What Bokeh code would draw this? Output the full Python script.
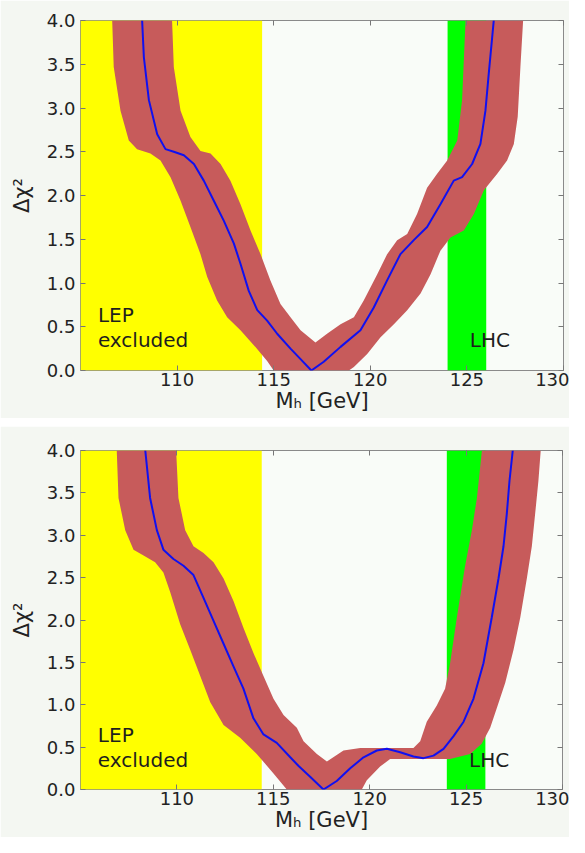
from bokeh.plotting import figure
from bokeh.models import Range1d, FixedTicker, LinearAxis, PrintfTickFormatter, CustomJSTickFormatter
from bokeh.layouts import column
from bokeh.core.properties import value
from bokeh.embed import file_html
from bokeh.resources import INLINE

# ---------------- data ----------------
x_ticks = [110, 115, 120, 125, 130]
y_ticks = [0.0, 0.5, 1.0, 1.5, 2.0, 2.5, 3.0, 3.5, 4.0]
lep_excluded = [105.0, 114.4]
lhc_window = [124.0, 126.0]

# top panel: central curve
top_mh = [108.19, 108.28, 108.54, 108.97, 109.40, 109.83, 110.35, 110.87, 111.38, 111.90,
          112.42, 112.94, 113.28, 113.71, 114.15, 114.66, 115.18, 115.87, 116.39, 116.95,
          117.59, 118.46, 119.49, 120.18, 120.87, 121.56, 122.25, 122.94, 123.63, 124.32,
          124.75, 125.27, 125.70, 125.96, 126.13, 126.39]
top_chi2 = [4.00, 3.58, 3.09, 2.70, 2.53, 2.50, 2.46, 2.36, 2.17, 1.94,
            1.71, 1.45, 1.22, 0.91, 0.69, 0.57, 0.42, 0.25, 0.13, 0.00,
            0.10, 0.27, 0.46, 0.72, 1.03, 1.33, 1.49, 1.64, 1.90, 2.17,
            2.21, 2.36, 2.59, 2.97, 3.39, 4.00]

# top panel: uncertainty band outline
top_band_mh = [106.64, 106.72, 107.07, 107.50, 107.93, 108.62, 109.14, 109.66, 110.18, 110.69,
               111.21, 111.56, 112.07, 112.59, 113.28, 113.97, 114.66, 115.00,
               118.89, 119.15, 119.84, 120.53, 121.22, 121.91, 122.60, 123.12, 123.63, 124.15,
               124.84, 125.36, 125.88, 126.57, 127.08, 127.43, 127.63, 127.77, 127.91,
               124.93, 124.75, 124.50, 123.98, 123.46, 122.94, 122.42, 121.91, 121.39, 120.87,
               120.36, 119.66, 119.15, 118.46, 117.76, 117.16,
               116.39, 115.87, 115.35, 114.83, 114.32, 113.80, 113.28, 112.76, 112.25, 111.73,
               111.21, 110.69, 110.18, 109.83, 109.74]
top_band_chi2 = [4.00, 3.47, 2.97, 2.63, 2.53, 2.48, 2.40, 2.21, 1.94, 1.64,
                 1.33, 1.07, 0.80, 0.61, 0.46, 0.29, 0.11, 0.00,
                 0.00, 0.04, 0.19, 0.38, 0.53, 0.69, 0.88, 1.10, 1.37, 1.52,
                 1.60, 1.79, 2.06, 2.25, 2.40, 2.59, 2.90, 3.47, 4.00,
                 4.00, 3.09, 2.63, 2.40, 2.25, 2.09, 1.79, 1.56, 1.49, 1.33,
                 1.10, 0.80, 0.61, 0.53, 0.42, 0.32,
                 0.46, 0.61, 0.76, 1.03, 1.33, 1.60, 1.90, 2.17, 2.36, 2.48,
                 2.51, 2.67, 2.97, 3.47, 4.00]

# bottom panel: central curve
bot_mh = [108.36, 108.61, 108.96, 109.30, 109.82, 110.34, 110.86, 111.38, 111.90, 112.42,
          112.94, 113.45, 113.97, 114.49, 115.18, 115.88, 116.30, 116.91, 117.60, 118.29,
          118.99, 119.68, 120.37, 120.89, 121.58, 122.27, 122.79, 123.31, 123.83, 124.35,
          124.87, 125.38, 125.90, 126.33, 126.68, 126.94, 127.11, 127.25, 127.42]
bot_chi2 = [4.00, 3.44, 3.06, 2.83, 2.72, 2.64, 2.53, 2.26, 1.99, 1.72,
            1.45, 1.19, 0.84, 0.65, 0.55, 0.38, 0.28, 0.15, 0.00, 0.10,
            0.25, 0.38, 0.46, 0.48, 0.44, 0.39, 0.37, 0.40, 0.48, 0.63,
            0.80, 1.07, 1.49, 2.03, 2.49, 2.87, 3.25, 3.64, 4.00]

# bottom panel: uncertainty band outline
bot_band_mh = [106.88, 106.97, 107.32, 107.75, 108.27, 108.87, 109.30, 109.65, 110.17, 110.69,
               111.21, 111.73, 112.42, 113.28, 114.14, 115.01, 115.70,
               119.59, 119.85, 120.54, 121.06, 124.17, 125.21, 125.81, 126.25, 126.59, 127.03,
               127.46, 127.81, 128.15, 128.41, 128.58, 128.75, 128.87,
               125.82, 125.56, 125.30, 124.95, 124.52, 124.17, 123.91, 123.48, 122.96, 122.62,
               122.27, 119.51, 118.64, 117.78,
               117.26, 116.57, 116.22, 115.53, 115.01, 114.49, 113.97, 113.45, 112.94, 112.42,
               111.90, 111.38, 110.86, 110.43, 110.08, 109.96]
bot_band_chi2 = [4.00, 3.44, 3.06, 2.83, 2.76, 2.68, 2.56, 2.33, 1.95, 1.65,
                 1.34, 1.03, 0.76, 0.61, 0.42, 0.19, 0.00,
                 0.00, 0.11, 0.27, 0.36, 0.36, 0.42, 0.54, 0.73, 0.96, 1.26,
                 1.65, 2.03, 2.49, 2.87, 3.25, 3.64, 4.00,
                 4.00, 3.44, 3.06, 2.64, 2.03, 1.49, 1.19, 0.99, 0.80, 0.57,
                 0.49, 0.49, 0.46, 0.33,
                 0.42, 0.57, 0.73, 0.88, 1.07, 1.34, 1.61, 1.91, 2.22, 2.49,
                 2.68, 2.79, 2.87, 3.06, 3.44, 4.00]

lep_label_pos = [(105.9, 0.64, "LEP"), (105.9, 0.35, "excluded")]
lhc_label_pos = (125.15, 0.35, "LHC")

FONT = "DejaVu Sans"
BAND = "#c75b5b"
LINE = "#1010f0"
TEXT = "#1e1e1e"


def make_panel(mh, chi2, band_mh, band_chi2, frame_w, frame_h, bl, bt, br, bb):
    p = figure(frame_width=frame_w, frame_height=frame_h,
               x_range=Range1d(105, 130), y_range=Range1d(0, 4),
               output_backend="svg", toolbar_location=None,
               min_border_left=bl, min_border_top=bt, min_border_right=br, min_border_bottom=bb,
               background_fill_color="#f9fcf8", border_fill_color="#f4f7f2",
               outline_line_color="#8a8a8a", outline_line_width=1)
    p.grid.visible = False

    # excluded / observed regions
    p.quad(left=[lep_excluded[0]], right=[lep_excluded[1]], bottom=[0], top=[4],
           fill_color="#ffff00", line_color=None)
    p.quad(left=[lhc_window[0]], right=[lhc_window[1]], bottom=[0], top=[4],
           fill_color="#00ff00", line_color=None)
    # band + central line
    p.patch(band_mh, band_chi2, fill_color=BAND, line_color=None)
    p.line(mh, chi2, line_color=LINE, line_width=2)

    for (x, y, t) in lep_label_pos + [lhc_label_pos]:
        p.text(x=[x], y=[y], text=[t], text_font=value(FONT), text_font_size="20px",
               text_color=TEXT, text_baseline="middle", text_align="left")

    # axes
    xa = p.xaxis[0]
    ya = p.yaxis[0]
    xa.ticker = FixedTicker(ticks=x_ticks)
    ya.ticker = FixedTicker(ticks=y_ticks)
    ya.formatter = PrintfTickFormatter(format="%.1f")
    xa.axis_label = "Mₕ [GeV]"
    ya.axis_label = "Δχ²"
    for ax in (xa, ya):
        ax.major_label_text_font = FONT
        ax.major_label_text_font_size = "18px"
        ax.major_label_text_color = "#222222"
        ax.axis_label_text_font = FONT
        ax.axis_label_text_font_size = "21px"
        ax.axis_label_text_font_style = "normal"
        ax.axis_label_text_color = "#222222"
        ax.axis_line_color = None
        ax.major_tick_in = 5
        ax.major_tick_out = 0
        ax.minor_tick_line_color = None
        ax.major_tick_line_color = "#777777"
    xa.major_label_standoff = 2
    xa.axis_label_standoff = 0
    ya.major_label_standoff = 5
    ya.axis_label_standoff = 10

    right = LinearAxis(ticker=FixedTicker(ticks=y_ticks))
    top = LinearAxis(ticker=FixedTicker(ticks=x_ticks))
    for ax in (right, top):
        ax.formatter = CustomJSTickFormatter(code="return ''")
        ax.major_label_standoff = 0
        ax.axis_line_color = None
        ax.major_tick_in = 5
        ax.major_tick_out = 0
        ax.minor_tick_line_color = None
        ax.major_tick_line_color = "#777777"
    p.add_layout(right, "right")
    p.add_layout(top, "above")
    return p


p1 = make_panel(top_mh, top_chi2, top_band_mh, top_band_chi2, 483, 350, 80, 20, 6, 48)
p2 = make_panel(bot_mh, bot_chi2, bot_band_mh, bot_band_chi2, 482, 339, 77, 24, 10, 48)

layout = column(p1, p2, spacing=8)

open("out.html", "w").write(file_html(layout, INLINE))
